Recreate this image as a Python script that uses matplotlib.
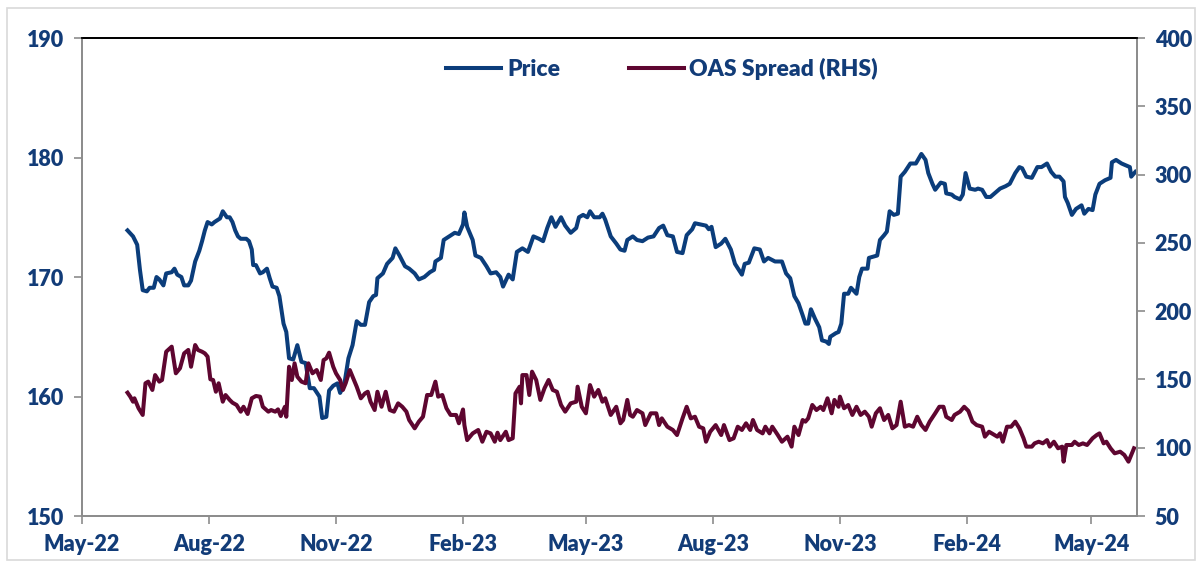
import matplotlib.pyplot as plt
import matplotlib.dates as mdates
from matplotlib.patches import Rectangle
import numpy as np
import datetime as dt

# days counted from 1 May 2022
base = dt.date(2022, 5, 1)

price_day = [33, 37, 40, 42, 44, 47, 49, 52, 54, 56, 59, 61, 65, 67, 69, 72, 74, 77, 79, 82,
             85, 87, 89, 91, 94, 96, 100, 102, 105, 107, 109, 111, 113, 115, 119, 121, 123, 124,
             126, 129, 131, 134, 136, 138, 141, 143, 146, 148, 150, 153, 156, 159, 162, 165, 168,
             172, 174, 177, 179, 182, 185, 187, 190, 193, 196, 199, 202, 205, 208, 211, 213, 214,
             218, 221, 225, 227, 230, 234, 237, 241, 244, 248, 252, 255, 256, 260, 262, 266, 270,
             273, 276, 277, 279, 283, 285, 289, 293, 296, 300, 303, 305, 309, 312, 315, 319, 323,
             327, 331, 334, 337, 340, 343, 347, 350, 354, 358, 360, 363, 366, 368, 371, 375, 377,
             379, 383, 387, 390, 393, 395, 399, 402, 406, 410, 414, 418, 421, 424, 428, 431, 435,
             438, 442, 444, 448, 452, 454, 456, 459, 463, 466, 470, 473, 478, 480, 483, 487, 491,
             494, 497, 502, 507, 510, 513, 516, 519, 522, 524, 526, 528, 531, 534, 536, 539, 541,
             542, 546, 548, 550, 552, 555, 557, 561, 563, 565, 569, 570, 573, 576, 578, 581, 583,
             585, 588, 591, 593, 596, 600, 604, 608, 611, 613, 616, 618, 622, 625, 626, 630, 632,
             636, 638, 640, 643, 647, 649, 652, 655, 658, 661, 665, 669, 672, 676, 679, 681, 684,
             688, 692, 695, 699, 702, 705, 708, 711, 712, 714, 717, 720, 724, 726, 729, 732, 734,
             737, 741, 745, 746, 749, 753, 757, 759, 760, 763]
price = [173.9, 173.4, 172.7, 170.6, 168.9, 168.8, 169.1, 169.1, 170.0, 169.8, 169.3, 170.3, 170.4,
         170.7, 170.2, 170.0, 169.3, 169.3, 169.7, 171.3, 172.2, 173.0, 173.9, 174.6, 174.4, 174.6,
         174.9, 175.5, 175.0, 175.0, 174.6, 173.9, 173.4, 173.2, 173.2, 173.0, 172.3, 171.0, 171.0,
         170.3, 170.4, 170.7, 169.9, 169.2, 169.1, 168.4, 166.1, 165.4, 163.2, 163.1, 164.3, 162.9,
         162.8, 160.7, 160.7, 160.0, 158.2, 158.3, 160.5, 160.9, 161.1, 160.3, 161.0, 163.2, 164.3,
         166.3, 166.0, 166.0, 167.9, 168.4, 168.5, 169.9, 170.3, 171.1, 171.6, 172.4, 171.8, 170.9,
         170.7, 170.3, 169.8, 170.0, 170.4, 170.6, 171.3, 171.6, 173.1, 173.4, 173.7, 173.6, 174.4,
         175.4, 174.2, 173.1, 171.8, 171.6, 170.9, 170.3, 170.4, 170.0, 169.2, 170.2, 169.8, 172.1,
         172.4, 172.1, 173.4, 173.2, 173.0, 174.1, 175.0, 174.2, 175.0, 174.3, 173.7, 174.1, 175.0,
         175.2, 175.0, 175.5, 175.0, 175.0, 175.3, 174.8, 173.4, 172.8, 172.3, 172.2, 173.1, 173.4,
         173.1, 173.0, 173.3, 173.4, 174.1, 174.3, 173.5, 173.4, 172.1, 172.0, 173.5, 174.0, 174.5,
         174.4, 174.3, 174.0, 174.2, 172.5, 172.8, 173.2, 172.3, 171.1, 170.2, 171.1, 171.2, 172.4,
         172.3, 171.3, 171.6, 171.3, 171.3, 170.3, 169.9, 168.4, 167.8, 166.8, 166.1, 166.1, 167.3,
         166.5, 165.8, 164.7, 164.6, 164.4, 165.0, 165.3, 165.4, 166.1, 168.6, 168.6, 169.1, 168.6,
         170.0, 170.7, 170.7, 171.6, 171.7, 171.8, 173.1, 173.5, 173.8, 175.5, 175.2, 175.3, 178.4,
         178.8, 179.5, 179.5, 180.3, 179.8, 178.7, 177.8, 177.3, 177.9, 177.8, 177.0, 176.9, 176.7,
         176.5, 176.9, 178.7, 177.4, 177.3, 177.4, 177.3, 176.7, 176.7, 177.0, 177.4, 177.6, 177.8,
         178.7, 179.2, 179.1, 178.4, 178.3, 179.2, 179.2, 179.5, 178.8, 178.4, 178.4, 178.0, 176.7,
         176.2, 175.2, 175.7, 176.0, 175.3, 175.7, 175.6, 176.9, 177.8, 178.1, 178.3, 179.6, 179.8,
         179.5, 179.3, 179.2, 178.4, 178.8]

oas_day = [33, 35, 37, 38, 41, 44, 46, 48, 51, 53, 56, 58, 61, 65, 68, 71, 74, 77, 79, 82, 84, 87,
           89, 91, 93, 95, 97, 99, 102, 104, 107, 109, 112, 115, 117, 120, 123, 126, 129, 131, 135,
           137, 140, 142, 144, 147, 148, 150, 152, 154, 156, 159, 162, 164, 167, 170, 173, 175, 177,
           179, 182, 184, 187, 189, 191, 194, 196, 199, 202, 205, 207, 209, 212, 214, 217, 220, 223,
           226, 229, 232, 235, 237, 241, 244, 247, 250, 253, 256, 258, 261, 264, 267, 271, 273, 276,
           277, 279, 283, 287, 290, 293, 296, 299, 301, 303, 307, 309, 312, 314, 317, 318, 319, 322,
           324, 326, 329, 332, 335, 338, 341, 344, 347, 350, 354, 358, 359, 362, 365, 368, 371, 374,
           377, 379, 383, 387, 390, 392, 395, 397, 399, 402, 406, 408, 412, 416, 418, 420, 424, 428,
           431, 435, 438, 441, 444, 447, 450, 452, 455, 459, 463, 465, 469, 472, 475, 478, 481, 484,
           486, 489, 493, 495, 498, 500, 504, 507, 511, 514, 516, 519, 522, 524, 526, 529, 532, 535,
           537, 540, 543, 545, 548, 549, 552, 555, 558, 561, 564, 567, 570, 572, 575, 578, 581, 584,
           587, 590, 593, 596, 599, 602, 605, 608, 611, 614, 618, 621, 624, 626, 630, 632, 636, 639,
           642, 645, 648, 652, 654, 657, 659, 663, 665, 667, 670, 673, 676, 679, 682, 684, 688, 690,
           693, 696, 699, 701, 704, 707, 710, 711, 713, 717, 719, 722, 725, 728, 732, 735, 737, 740,
           742, 745, 748, 752, 755, 758, 760, 762]
oas = [140.3, 137.4, 133.7, 136.2, 128.9, 124.0, 147.2, 148.4, 142.3, 153.2, 148.4, 149.6, 170.3,
       174.0, 154.5, 158.2, 169.1, 171.6, 159.3, 175.2, 171.6, 170.3, 169.1, 166.7, 150.1, 149.6,
       141.0, 147.2, 133.7, 138.6, 135.0, 133.0, 131.3, 126.4, 130.0, 124.7, 136.2, 137.9, 137.4,
       130.0, 126.4, 127.6, 126.4, 128.1, 123.2, 130.0, 122.7, 159.3, 149.6, 161.8, 152.0, 148.4,
       147.2, 161.8, 154.5, 156.9, 149.6, 164.2, 165.4, 169.6, 159.3, 154.5, 149.6, 142.3, 147.2,
       156.9, 152.0, 144.7, 136.2, 139.8, 141.0, 133.7, 127.6, 141.0, 130.0, 141.0, 127.6, 126.4,
       132.5, 130.0, 126.4, 120.3, 114.2, 119.1, 122.7, 138.6, 138.6, 148.4, 137.4, 138.6, 128.9,
       124.0, 124.0, 117.9, 128.0, 116.6, 105.6, 110.5, 113.0, 104.4, 111.7, 110.5, 104.4, 111.0,
       105.6, 111.7, 105.6, 106.9, 139.8, 144.7, 132.5, 153.2, 153.2, 138.6, 155.7, 149.6, 135.0,
       143.5, 149.6, 142.3, 141.0, 131.3, 126.4, 132.5, 133.7, 144.7, 130.0, 125.2, 145.9, 137.4,
       142.3, 133.7, 136.2, 124.0, 130.0, 117.9, 120.3, 135.0, 124.0, 122.7, 127.6, 125.2, 116.6,
       125.2, 125.2, 116.6, 121.5, 115.4, 113.0, 109.3, 121.5, 130.0, 121.5, 122.7, 115.4, 114.2,
       104.4, 111.7, 116.6, 109.3, 116.6, 105.6, 106.9, 115.4, 113.0, 117.9, 113.0, 120.3, 113.0,
       110.5, 115.4, 110.5, 115.4, 109.3, 104.4, 108.1, 100.8, 115.4, 109.3, 120.3, 119.1, 121.5,
       131.3, 127.6, 130.0, 127.6, 136.2, 125.2, 135.0, 130.0, 137.4, 128.9, 131.3, 124.0, 130.0,
       124.0, 126.4, 122.7, 115.4, 125.2, 128.9, 120.3, 124.0, 114.2, 116.6, 133.7, 115.4, 116.6,
       115.4, 122.7, 116.6, 113.0, 119.1, 125.2, 130.0, 130.0, 122.7, 120.3, 124.0, 126.4, 130.0,
       127.0, 119.1, 116.6, 115.4, 108.1, 111.7, 110.5, 108.1, 110.5, 104.4, 115.4, 115.4, 119.1,
       114.2, 106.9, 100.8, 100.8, 103.2, 104.4, 103.2, 105.6, 100.8, 104.4, 99.6, 100.8, 89.8,
       102.0, 102.0, 104.4, 102.0, 103.2, 102.0, 106.9, 109.3, 110.5, 103.2, 104.4, 99.6, 95.9,
       97.1, 94.7, 89.8, 94.7, 99.6]

x_ticks = ['2022-05-01', '2022-08-01', '2022-11-01', '2023-02-01', '2023-05-01',
           '2023-08-01', '2023-11-01', '2024-02-01', '2024-05-01']

price_dates = [base + dt.timedelta(days=d) for d in price_day]
oas_dates = [base + dt.timedelta(days=d) for d in oas_day]

blue = '#0B3D7B'
maroon = '#5E0630'
txt = '#123C78'
grey = '#8C8C8C'
wt = 'heavy'

plt.rcParams['font.family'] = ['Lato', 'DejaVu Sans']

fig = plt.figure(figsize=(12, 5.65), dpi=100)
fig.patches.append(Rectangle((0.006, 0.008), 0.990, 0.978, transform=fig.transFigure,
                             fill=False, edgecolor='#D9D9D9', linewidth=1.2))
ax = fig.add_axes([0.0683, 0.0867, 0.879, 0.846])
ax2 = ax.twinx()

l1, = ax.plot(price_dates, price, color=blue, lw=2.9, label='Price', solid_joinstyle='round')
l2, = ax2.plot(oas_dates, oas, color=maroon, lw=2.9, label='OAS Spread (RHS)', solid_joinstyle='round')

ax.set_ylim(150, 190)
ax.set_yticks([150, 160, 170, 180, 190])
ax2.set_ylim(50, 400)
ax2.set_yticks(np.arange(50, 401, 50))
ax.set_xlim(dt.date(2022, 5, 1), dt.date(2024, 6, 3))
ax.set_xticks([dt.date.fromisoformat(s) for s in x_ticks])
ax.xaxis.set_major_formatter(mdates.DateFormatter('%b-%y'))

for a in (ax, ax2):
    for s in a.spines.values():
        s.set_color(grey)
        s.set_linewidth(1.3)
    a.spines['top'].set_color('black')
    a.tick_params(colors=grey, labelcolor=txt, labelsize=15.5, length=6, width=1.2)
ax.tick_params(axis='y', pad=7)
ax2.tick_params(axis='y', pad=7)
ax.tick_params(axis='x', pad=7)
for lab in ax.get_xticklabels() + ax.get_yticklabels() + ax2.get_yticklabels():
    lab.set_fontweight(wt)

leg = ax.legend(handles=[l1, l2], loc='center', bbox_to_anchor=(0.55, 0.935), ncol=2,
                frameon=False, fontsize=16.5, handlelength=2.4, columnspacing=3.0, handletextpad=0.25)
for t in leg.get_texts():
    t.set_color(txt)
    t.set_fontweight(wt)

fig.savefig('out.png', dpi=100)
